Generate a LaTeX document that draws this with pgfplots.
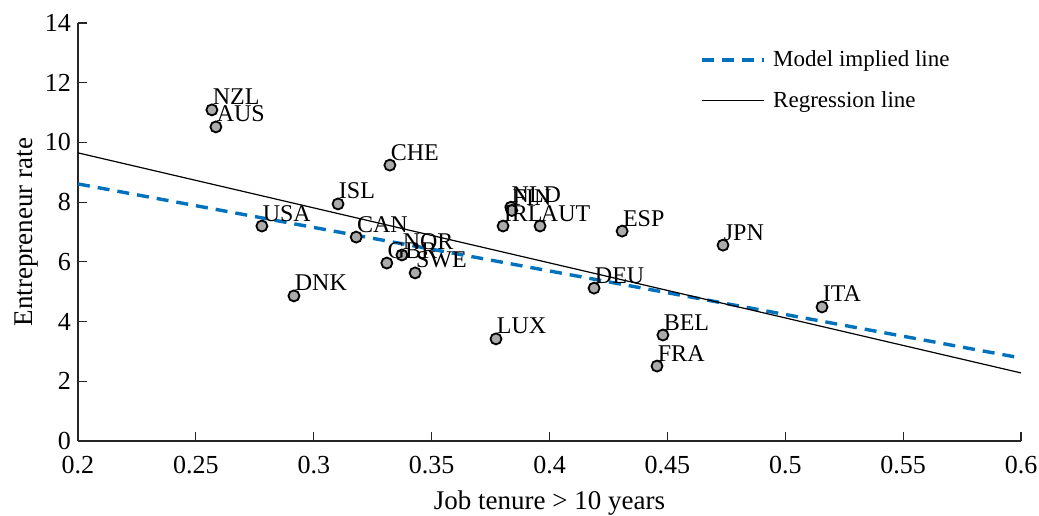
\documentclass[border=0pt]{standalone}
\usepackage{fontspec}
\setmainfont{Liberation Serif}
\usepackage{pgfplots}
\pgfplotsset{compat=1.18}
\definecolor{mblue}{rgb}{0,0.447,0.741}
\definecolor{mgray}{rgb}{0.67,0.67,0.67}
\definecolor{axgray}{rgb}{0.15,0.15,0.15}
\pgfplotstableread{
x y lab
0.2568 11.09 NZL
0.2585 10.52 AUS
0.3323 9.24 CHE
0.3103 7.94 ISL
0.2780 7.20 USA
0.3180 6.83 CAN
0.3374 6.23 NOR
0.3310 5.96 GBR
0.3430 5.63 SWE
0.2916 4.86 DNK
0.3836 7.83 NLD
0.3840 7.72 FIN
0.3803 7.20 IRL
0.3960 7.20 AUT
0.4308 7.03 ESP
0.4736 6.56 JPN
0.4189 5.12 DEU
0.5156 4.49 ITA
0.4481 3.55 BEL
0.4456 2.51 FRA
0.3773 3.42 LUX
}\pts
\begin{document}
\begin{tikzpicture}
\begin{axis}[
  at={(0,0)}, anchor=south west,
  scale only axis, width=471.5pt, height=209pt,
  xmin=0.2, xmax=0.6, ymin=0, ymax=14,
  xtick={0.2,0.25,0.3,0.35,0.4,0.45,0.5,0.55,0.6},
  ytick={0,2,4,6,8,10,12,14},
  axis lines*=left,
  axis line style={-,axgray,line width=0.6pt},
  tick align=inside,
  major tick length=4.5pt,
  tick style={axgray,line width=0.6pt},
  /pgf/number format/assume math mode=true,
  /pgf/number format/fixed,
  ticklabel style={font=\fontsize{13}{15}\selectfont},
  xticklabel style={yshift=-4pt},
  xlabel={Job tenure > 10 years},
  ylabel={Entrepreneur rate},
  label style={font=\fontsize{13.5}{16}\selectfont},
  xlabel style={at={(axis description cs:0.5,-0.148)},anchor=center},
  ylabel style={at={(axis description cs:-0.055,0.5)},anchor=center},
  legend cell align=left,
  legend style={at={(0.659,0.945)}, anchor=north west, draw=none, fill=none,
    font=\fontsize{11.5}{13}\selectfont, row sep=7pt, inner sep=0pt,
    nodes={inner xsep=4pt}},
  legend image code/.code={\draw[#1] (0pt,0pt) -- (31pt,0pt);},
]
\addplot[mblue, line width=1.7pt, dash pattern=on 6pt off 4pt] coordinates {(0.2,8.61) (0.6,2.78)};
\addlegendentry{Model implied line}
\addplot[black, line width=0.6pt] coordinates {(0.2,9.65) (0.6,2.28)};
\addlegendentry{Regression line}
\addplot[forget plot, only marks, mark=*, mark size=2.75pt,
  mark options={fill=mgray, draw=black, line width=0.9pt},
  nodes near coords, point meta=explicit symbolic,
  every node near coord/.style={anchor=base west, inner sep=0pt, yshift=2.5pt,
    font=\fontsize{12}{14}\selectfont, text=black}]
  table[x=x, y=y, meta=lab] {\pts};
\end{axis}
\pgfresetboundingbox
\useasboundingbox (-39pt,-37pt) rectangle (480.5pt,220.5pt);
\end{tikzpicture}
\end{document}
